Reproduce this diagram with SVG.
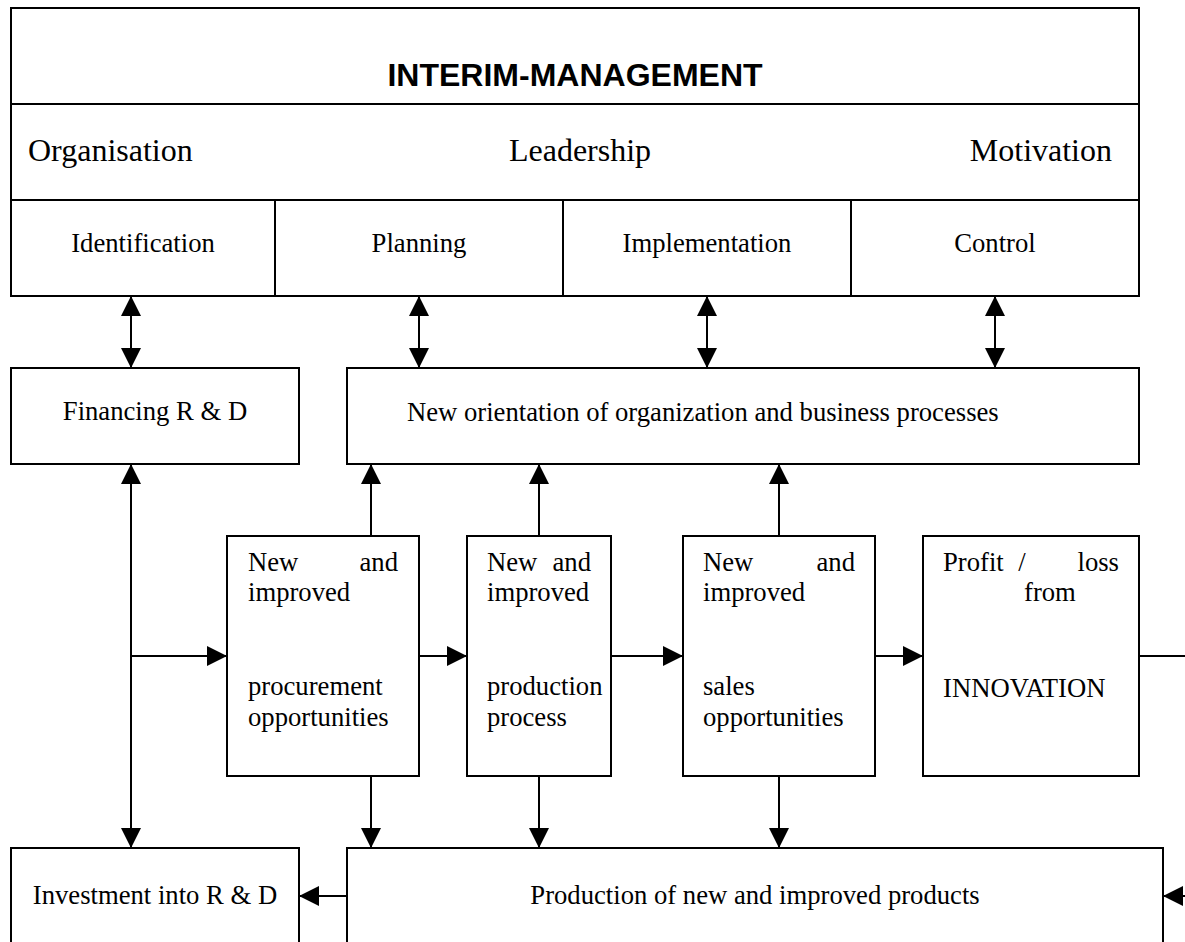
<svg xmlns="http://www.w3.org/2000/svg" width="1185" height="942" viewBox="0 0 1185 942">
<style>
.box{fill:#fff;stroke:#000;stroke-width:2}
.ln{fill:none;stroke:#000;stroke-width:2}
.t{font-family:"Liberation Serif","Times New Roman",serif;fill:#000}
.s32{font-size:32px}
.s26{font-size:26.67px}
.title{font-family:"Liberation Sans",Arial,sans-serif;font-weight:bold;font-size:32px;fill:#000}
.c{stroke:#000;stroke-width:2;fill:none}
</style>
<defs>
<marker id="ah" markerUnits="userSpaceOnUse" markerWidth="20" markerHeight="20" viewBox="0 0 20 20" refX="20" refY="10" orient="auto-start-reverse">
<path d="M0,0 L20,10 L0,20 z" fill="#000"/>
</marker>
</defs>
<rect width="1185" height="942" fill="#fff"/>
<g id="interim">
<rect class="box" x="11" y="8" width="1128" height="288"/>
<line class="ln" x1="11" y1="104" x2="1139" y2="104"/>
<line class="ln" x1="11" y1="200" x2="1139" y2="200"/>
<line class="ln" x1="275" y1="200" x2="275" y2="296"/>
<line class="ln" x1="563" y1="200" x2="563" y2="296"/>
<line class="ln" x1="851" y1="200" x2="851" y2="296"/>
<text class="title" x="575" y="86" text-anchor="middle">INTERIM-MANAGEMENT</text>
<text class="t s32" x="28" y="161">Organisation</text>
<text class="t s32" x="580" y="161" text-anchor="middle">Leadership</text>
<text class="t s32" x="1112" y="161" text-anchor="end">Motivation</text>
<text class="t s26" x="143" y="252" text-anchor="middle">Identification</text>
<text class="t s26" x="419" y="252" text-anchor="middle">Planning</text>
<text class="t s26" x="707" y="252" text-anchor="middle">Implementation</text>
<text class="t s26" x="995" y="252" text-anchor="middle">Control</text>
</g>
<g id="financing">
<rect class="box" x="11" y="368" width="288" height="96"/>
<text class="t s26" x="155" y="420" text-anchor="middle">Financing R &amp; D</text>
</g>
<g id="orientation">
<rect class="box" x="347" y="368" width="792" height="96"/>
<text class="t s26" x="407" y="421">New orientation of organization and business processes</text>
</g>
<g id="procurement">
<rect class="box" x="227" y="536" width="192" height="240"/>
<text class="t s26" x="248" y="571">New</text>
<text class="t s26" x="398" y="571" text-anchor="end">and</text>
<text class="t s26" x="248" y="601">improved</text>
<text class="t s26" x="248" y="695">procurement</text>
<text class="t s26" x="248" y="726">opportunities</text>
</g>
<g id="production">
<rect class="box" x="467" y="536" width="144" height="240"/>
<text class="t s26" x="487" y="571">New</text>
<text class="t s26" x="591" y="571" text-anchor="end">and</text>
<text class="t s26" x="487" y="601">improved</text>
<text class="t s26" x="487" y="695">production</text>
<text class="t s26" x="487" y="726">process</text>
</g>
<g id="sales">
<rect class="box" x="683" y="536" width="192" height="240"/>
<text class="t s26" x="703" y="571">New</text>
<text class="t s26" x="855" y="571" text-anchor="end">and</text>
<text class="t s26" x="703" y="601">improved</text>
<text class="t s26" x="703" y="695">sales</text>
<text class="t s26" x="703" y="726">opportunities</text>
</g>
<g id="profit">
<rect class="box" x="923" y="536" width="216" height="240"/>
<text class="t s26" x="943" y="571">Profit</text>
<text class="t s26" x="1022" y="571" text-anchor="middle">/</text>
<text class="t s26" x="1119" y="571" text-anchor="end">loss</text>
<text class="t s26" x="1024" y="601">from</text>
<text class="t s26" x="943" y="697">INNOVATION</text>
</g>
<g id="investment">
<rect class="box" x="11" y="848" width="288" height="120"/>
<text class="t s26" x="155" y="904" text-anchor="middle">Investment into R &amp; D</text>
</g>
<g id="products">
<rect class="box" x="347" y="848" width="816" height="120"/>
<text class="t s26" x="755" y="904" text-anchor="middle">Production of new and improved products</text>
</g>
<g id="connectors">
<line class="c" x1="131" y1="296" x2="131" y2="368" marker-start="url(#ah)" marker-end="url(#ah)"/>
<line class="c" x1="419" y1="296" x2="419" y2="368" marker-start="url(#ah)" marker-end="url(#ah)"/>
<line class="c" x1="707" y1="296" x2="707" y2="368" marker-start="url(#ah)" marker-end="url(#ah)"/>
<line class="c" x1="995" y1="296" x2="995" y2="368" marker-start="url(#ah)" marker-end="url(#ah)"/>
<line class="c" x1="131" y1="464" x2="131" y2="848" marker-start="url(#ah)" marker-end="url(#ah)"/>
<line class="c" x1="131" y1="656" x2="227" y2="656" marker-end="url(#ah)"/>
<line class="c" x1="419" y1="656" x2="467" y2="656" marker-end="url(#ah)"/>
<line class="c" x1="611" y1="656" x2="683" y2="656" marker-end="url(#ah)"/>
<line class="c" x1="875" y1="656" x2="923" y2="656" marker-end="url(#ah)"/>
<line class="c" x1="1139" y1="656" x2="1185" y2="656"/>
<line class="c" x1="371" y1="536" x2="371" y2="464" marker-end="url(#ah)"/>
<line class="c" x1="539" y1="536" x2="539" y2="464" marker-end="url(#ah)"/>
<line class="c" x1="779" y1="536" x2="779" y2="464" marker-end="url(#ah)"/>
<line class="c" x1="371" y1="776" x2="371" y2="848" marker-end="url(#ah)"/>
<line class="c" x1="539" y1="776" x2="539" y2="848" marker-end="url(#ah)"/>
<line class="c" x1="779" y1="776" x2="779" y2="848" marker-end="url(#ah)"/>
<line class="c" x1="347" y1="896" x2="299" y2="896" marker-end="url(#ah)"/>
<line class="c" x1="1185" y1="896" x2="1163" y2="896" marker-end="url(#ah)"/>
</g>
</svg>
